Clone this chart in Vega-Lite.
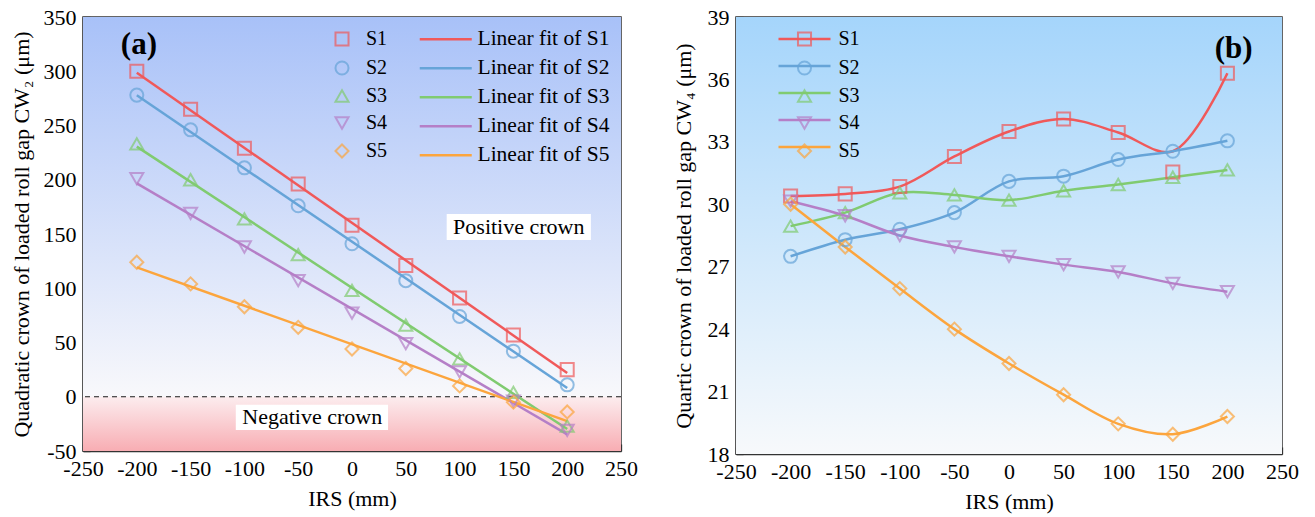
{
  "$schema": "https://vega.github.io/schema/vega-lite/v6.json",
  "background": "white",
  "padding": {"left": 9, "top": 5, "right": 5, "bottom": 5},
  "spacing": 32,
  "datasets": {
    "crownA": [
      {"irs": -200, "series": "S1", "cw2": 300}, {"irs": -150, "series": "S1", "cw2": 265}, {"irs": -100, "series": "S1", "cw2": 229},
      {"irs": -50, "series": "S1", "cw2": 196}, {"irs": 0, "series": "S1", "cw2": 158}, {"irs": 50, "series": "S1", "cw2": 121},
      {"irs": 100, "series": "S1", "cw2": 91}, {"irs": 150, "series": "S1", "cw2": 57}, {"irs": 200, "series": "S1", "cw2": 25},
      {"irs": -200, "series": "S2", "cw2": 278}, {"irs": -150, "series": "S2", "cw2": 246}, {"irs": -100, "series": "S2", "cw2": 211},
      {"irs": -50, "series": "S2", "cw2": 176}, {"irs": 0, "series": "S2", "cw2": 141}, {"irs": 50, "series": "S2", "cw2": 107},
      {"irs": 100, "series": "S2", "cw2": 74}, {"irs": 150, "series": "S2", "cw2": 42}, {"irs": 200, "series": "S2", "cw2": 11},
      {"irs": -200, "series": "S3", "cw2": 233}, {"irs": -150, "series": "S3", "cw2": 200}, {"irs": -100, "series": "S3", "cw2": 164},
      {"irs": -50, "series": "S3", "cw2": 131}, {"irs": 0, "series": "S3", "cw2": 98}, {"irs": 50, "series": "S3", "cw2": 66},
      {"irs": 100, "series": "S3", "cw2": 35}, {"irs": 150, "series": "S3", "cw2": 4}, {"irs": 200, "series": "S3", "cw2": -27},
      {"irs": -200, "series": "S4", "cw2": 201}, {"irs": -150, "series": "S4", "cw2": 169}, {"irs": -100, "series": "S4", "cw2": 138},
      {"irs": -50, "series": "S4", "cw2": 107}, {"irs": 0, "series": "S4", "cw2": 77}, {"irs": 50, "series": "S4", "cw2": 49},
      {"irs": 100, "series": "S4", "cw2": 23}, {"irs": 150, "series": "S4", "cw2": -4}, {"irs": 200, "series": "S4", "cw2": -31},
      {"irs": -200, "series": "S5", "cw2": 124}, {"irs": -150, "series": "S5", "cw2": 104}, {"irs": -100, "series": "S5", "cw2": 83},
      {"irs": -50, "series": "S5", "cw2": 64}, {"irs": 0, "series": "S5", "cw2": 44}, {"irs": 50, "series": "S5", "cw2": 26},
      {"irs": 100, "series": "S5", "cw2": 10}, {"irs": 150, "series": "S5", "cw2": -5}, {"irs": 200, "series": "S5", "cw2": -14}
    ],
    "fitA": [
      {"irs": -200, "fit": "Linear fit of S1", "cw2": 298.6}, {"irs": 200, "fit": "Linear fit of S1", "cw2": 21.9},
      {"irs": -200, "fit": "Linear fit of S2", "cw2": 277.8}, {"irs": 200, "fit": "Linear fit of S2", "cw2": 8.0},
      {"irs": -200, "fit": "Linear fit of S3", "cw2": 230.5}, {"irs": 200, "fit": "Linear fit of S3", "cw2": -29.7},
      {"irs": -200, "fit": "Linear fit of S4", "cw2": 196.7}, {"irs": 200, "fit": "Linear fit of S4", "cw2": -34.7},
      {"irs": -200, "fit": "Linear fit of S5", "cw2": 119.3}, {"irs": 200, "fit": "Linear fit of S5", "cw2": -22.5}
    ],
    "crownB": [
      {"irs": -200, "series": "S1", "cw4": 30.4, "spline": 30.4}, {"irs": -150, "series": "S1", "cw4": 30.5, "spline": 30.5},
      {"irs": -100, "series": "S1", "cw4": 30.85, "spline": 30.85}, {"irs": -50, "series": "S1", "cw4": 32.3, "spline": 32.3},
      {"irs": 0, "series": "S1", "cw4": 33.5, "spline": 33.5}, {"irs": 50, "series": "S1", "cw4": 34.1, "spline": 34.1},
      {"irs": 100, "series": "S1", "cw4": 33.45, "spline": 33.45}, {"irs": 150, "series": "S1", "cw4": 31.55, "spline": 32.55},
      {"irs": 200, "series": "S1", "cw4": 36.3, "spline": 36.3},
      {"irs": -200, "series": "S2", "cw4": 27.5, "spline": 27.5}, {"irs": -150, "series": "S2", "cw4": 28.3, "spline": 28.3},
      {"irs": -100, "series": "S2", "cw4": 28.8, "spline": 28.8}, {"irs": -50, "series": "S2", "cw4": 29.6, "spline": 29.6},
      {"irs": 0, "series": "S2", "cw4": 31.1, "spline": 31.1}, {"irs": 50, "series": "S2", "cw4": 31.35, "spline": 31.35},
      {"irs": 100, "series": "S2", "cw4": 32.15, "spline": 32.15}, {"irs": 150, "series": "S2", "cw4": 32.55, "spline": 32.55},
      {"irs": 200, "series": "S2", "cw4": 33.05, "spline": 33.05},
      {"irs": -200, "series": "S3", "cw4": 28.95, "spline": 28.95}, {"irs": -150, "series": "S3", "cw4": 29.6, "spline": 29.6},
      {"irs": -100, "series": "S3", "cw4": 30.55, "spline": 30.55}, {"irs": -50, "series": "S3", "cw4": 30.45, "spline": 30.45},
      {"irs": 0, "series": "S3", "cw4": 30.2, "spline": 30.2}, {"irs": 50, "series": "S3", "cw4": 30.65, "spline": 30.65},
      {"irs": 100, "series": "S3", "cw4": 30.95, "spline": 30.95}, {"irs": 150, "series": "S3", "cw4": 31.3, "spline": 31.3},
      {"irs": 200, "series": "S3", "cw4": 31.65, "spline": 31.65},
      {"irs": -200, "series": "S4", "cw4": 30.15, "spline": 30.15}, {"irs": -150, "series": "S4", "cw4": 29.45, "spline": 29.45},
      {"irs": -100, "series": "S4", "cw4": 28.5, "spline": 28.5}, {"irs": -50, "series": "S4", "cw4": 27.95, "spline": 27.95},
      {"irs": 0, "series": "S4", "cw4": 27.5, "spline": 27.5}, {"irs": 50, "series": "S4", "cw4": 27.1, "spline": 27.1},
      {"irs": 100, "series": "S4", "cw4": 26.75, "spline": 26.75}, {"irs": 150, "series": "S4", "cw4": 26.2, "spline": 26.2},
      {"irs": 200, "series": "S4", "cw4": 25.8, "spline": 25.8},
      {"irs": -200, "series": "S5", "cw4": 30.0, "spline": 30.0}, {"irs": -150, "series": "S5", "cw4": 27.95, "spline": 27.95},
      {"irs": -100, "series": "S5", "cw4": 25.95, "spline": 25.95}, {"irs": -50, "series": "S5", "cw4": 24.0, "spline": 24.0},
      {"irs": 0, "series": "S5", "cw4": 22.35, "spline": 22.35}, {"irs": 50, "series": "S5", "cw4": 20.85, "spline": 20.85},
      {"irs": 100, "series": "S5", "cw4": 19.45, "spline": 19.45}, {"irs": 150, "series": "S5", "cw4": 18.95, "spline": 18.95},
      {"irs": 200, "series": "S5", "cw4": 19.8, "spline": 19.8}
    ]
  },
  "hconcat": [
    {
      "width": 538,
      "height": 434,
      "layer": [
        {
          "data": {"values": [{}]},
          "mark": {
            "type": "rect",
            "fill": {
              "gradient": "linear", "x1": 0, "y1": 0, "x2": 0, "y2": 1,
              "stops": [
                {"offset": 0, "color": "#a8c1f8"},
                {"offset": 0.874, "color": "#f8f8fb"},
                {"offset": 0.876, "color": "#fcecee"},
                {"offset": 1, "color": "#f8adb3"}
              ]
            }
          },
          "encoding": {
            "x": {"datum": -250, "type": "quantitative", "scale": {"domain": [-250, 250], "nice": false, "zero": false},
                  "axis": {"orient": "bottom", "values": [-225, -175, -125, -75, -25, 25, 75, 125, 175, 225], "labels": false, "domain": false, "tickSize": -4, "title": null}},
            "x2": {"datum": 250},
            "y": {"datum": 350, "type": "quantitative", "scale": {"domain": [-50, 350], "nice": false, "zero": false},
                  "axis": {"orient": "left", "values": [-25, 25, 75, 125, 175, 225, 275, 325], "labels": false, "domain": false, "tickSize": -4, "title": null}},
            "y2": {"datum": -50}
          }
        },
        {
          "data": {"values": [{}]},
          "mark": {"type": "rule", "strokeDash": [5, 4], "color": "#1a1a1a", "strokeWidth": 1.1},
          "encoding": {"y": {"datum": 0, "type": "quantitative", "axis": null}}
        },
        {
          "data": {"values": [{}]},
          "mark": {"type": "rect", "fill": "white"},
          "encoding": {
            "x": {"datum": 88, "type": "quantitative", "axis": null}, "x2": {"datum": 222},
            "y": {"datum": 168.5, "type": "quantitative", "axis": null}, "y2": {"datum": 144.5}
          }
        },
        {
          "data": {"values": [{}]},
          "mark": {"type": "rect", "fill": "white"},
          "encoding": {
            "x": {"datum": -108, "type": "quantitative", "axis": null}, "x2": {"datum": 33.5},
            "y": {"datum": -7.4, "type": "quantitative", "axis": null}, "y2": {"datum": -30.6}
          }
        },
        {
          "data": {"values": [{"label": "Positive crown"}]},
          "mark": {"type": "text", "font": "Liberation Serif", "fontSize": 22, "color": "black", "align": "center", "baseline": "middle"},
          "encoding": {
            "x": {"datum": 155, "type": "quantitative", "axis": null},
            "y": {"datum": 156.5, "type": "quantitative", "axis": null},
            "text": {"field": "label"}
          }
        },
        {
          "data": {"values": [{"label": "Negative crown"}]},
          "mark": {"type": "text", "font": "Liberation Serif", "fontSize": 22, "color": "black", "align": "center", "baseline": "middle"},
          "encoding": {
            "x": {"datum": -37, "type": "quantitative", "axis": null},
            "y": {"datum": -19, "type": "quantitative", "axis": null},
            "text": {"field": "label"}
          }
        },
        {
          "data": {"name": "fitA"},
          "mark": {"type": "line", "strokeWidth": 2.5},
          "encoding": {
            "x": {"field": "irs", "type": "quantitative", "axis": null},
            "y": {"field": "cw2", "type": "quantitative", "axis": null},
            "stroke": {
              "field": "fit", "type": "nominal",
              "scale": {"range": ["#f0595a", "#66a4d8", "#80cb70", "#b57fc7", "#fca53d"]},
              "legend": {"title": null, "orient": "none", "legendX": 352, "legendY": 11.5, "symbolType": "M-4,0H4", "symbolSize": 169, "symbolStrokeWidth": 2.5, "symbolFillColor": "transparent", "labelOffset": 21, "labelFontSize": 21.5, "rowPadding": 6, "padding": 0}
            }
          }
        },
        {
          "data": {"name": "crownA"},
          "mark": {"type": "point", "filled": false, "strokeWidth": 2, "size": 170},
          "encoding": {
            "x": {"field": "irs", "type": "quantitative", "title": "IRS (mm)", "scale": {"domain": [-250, 250], "nice": false, "zero": false},
                  "axis": {"orient": "bottom", "values": [-250, -200, -150, -100, -50, 0, 50, 100, 150, 200, 250], "titlePadding": 9,
                           "labelExpr": "datum.value < 0 ? '-' + abs(datum.value) : '' + datum.value"}},
            "y": {"field": "cw2", "type": "quantitative", "title": "Quadratic crown of loaded roll gap CW₂ (μm)", "scale": {"domain": [-50, 350], "nice": false, "zero": false},
                  "axis": {"orient": "left", "values": [-50, 0, 50, 100, 150, 200, 250, 300, 350], "titlePadding": 10,
                           "labelExpr": "datum.value < 0 ? '-' + abs(datum.value) : '' + datum.value"}},
            "color": {
              "field": "series", "type": "nominal",
              "scale": {"range": ["#f0595a", "#66a4d8", "#80cb70", "#b57fc7", "#fca53d"]},
              "legend": {"title": null, "orient": "none", "legendX": 249, "legendY": 12, "symbolSize": 170, "symbolStrokeWidth": 2, "symbolFillColor": "transparent", "labelOffset": 14, "labelFontSize": 20, "rowPadding": 7, "padding": 0}
            },
            "shape": {
              "field": "series", "type": "nominal",
              "scale": {"range": ["square", "circle", "triangle-up", "triangle-down", "diamond"]}
            }
          }
        },
        {
          "data": {"values": [{"label": "(a)"}]},
          "mark": {"type": "text", "font": "Liberation Serif", "fontSize": 31, "fontWeight": "bold", "color": "black", "align": "center", "baseline": "middle"},
          "encoding": {
            "x": {"datum": -198, "type": "quantitative", "axis": null},
            "y": {"datum": 324.5, "type": "quantitative", "axis": null},
            "text": {"field": "label"}
          }
        }
      ],
      "resolve": {"axis": {"x": "independent", "y": "independent"}}
    },
    {
      "width": 546,
      "height": 437,
      "layer": [
        {
          "data": {"values": [{}]},
          "mark": {
            "type": "rect",
            "fill": {
              "gradient": "linear", "x1": 0, "y1": 0, "x2": 0, "y2": 1,
              "stops": [
                {"offset": 0, "color": "#a5d5fb"},
                {"offset": 1, "color": "#f7f9fb"}
              ]
            }
          },
          "encoding": {
            "x": {"datum": -250, "type": "quantitative", "scale": {"domain": [-250, 250], "nice": false, "zero": false},
                  "axis": {"orient": "bottom", "values": [-225, -175, -125, -75, -25, 25, 75, 125, 175, 225], "labels": false, "domain": false, "tickSize": -4, "title": null}},
            "x2": {"datum": 250},
            "y": {"datum": 39, "type": "quantitative", "scale": {"domain": [18, 39], "nice": false, "zero": false},
                  "axis": {"orient": "left", "values": [19.5, 22.5, 25.5, 28.5, 31.5, 34.5, 37.5], "labels": false, "domain": false, "tickSize": -4, "title": null}},
            "y2": {"datum": 18}
          }
        },
        {
          "data": {"name": "crownB"},
          "mark": {"type": "line", "interpolate": "catmull-rom", "strokeWidth": 2.5},
          "encoding": {
            "x": {"field": "irs", "type": "quantitative", "axis": null},
            "y": {"field": "spline", "type": "quantitative", "axis": null},
            "stroke": {
              "field": "series", "type": "nominal",
              "scale": {"domain": ["S1", "S2", "S3", "S4", "S5"], "range": ["#f0595a", "#66a4d8", "#80cb70", "#b57fc7", "#fca53d"]},
              "legend": {"title": null, "orient": "none", "legendX": 58.5, "legendY": 12, "symbolType": "M-4,0H4", "symbolSize": 169, "symbolStrokeWidth": 2.5, "symbolFillColor": "transparent", "labelExpr": "' '", "labelOffset": 25.5, "labelFontSize": 20, "rowPadding": 7, "padding": 0}
            }
          }
        },
        {
          "data": {"name": "crownB"},
          "mark": {"type": "point", "filled": false, "strokeWidth": 2, "size": 170},
          "encoding": {
            "x": {"field": "irs", "type": "quantitative", "title": "IRS (mm)", "scale": {"domain": [-250, 250], "nice": false, "zero": false},
                  "axis": {"orient": "bottom", "values": [-250, -200, -150, -100, -50, 0, 50, 100, 150, 200, 250], "titlePadding": 9,
                           "labelExpr": "datum.value < 0 ? '-' + abs(datum.value) : '' + datum.value"}},
            "y": {"field": "cw4", "type": "quantitative", "title": "Quartic crown of loaded roll gap CW₄ (μm)", "scale": {"domain": [18, 39], "nice": false, "zero": false},
                  "axis": {"orient": "left", "values": [18, 21, 24, 27, 30, 33, 36, 39], "titlePadding": 12}},
            "color": {
              "field": "series", "type": "nominal",
              "scale": {"range": ["#f0595a", "#66a4d8", "#80cb70", "#b57fc7", "#fca53d"]},
              "legend": {"title": null, "orient": "none", "legendX": 58.5, "legendY": 12, "symbolSize": 170, "symbolStrokeWidth": 2, "symbolFillColor": "#bcdffb", "labelOffset": 24, "labelFontSize": 20, "rowPadding": 7, "padding": 0}
            },
            "shape": {
              "field": "series", "type": "nominal",
              "scale": {"range": ["square", "circle", "triangle-up", "triangle-down", "diamond"]}
            }
          }
        },
        {
          "data": {"values": [{"label": "(b)"}]},
          "mark": {"type": "text", "font": "Liberation Serif", "fontSize": 31, "fontWeight": "bold", "color": "black", "align": "center", "baseline": "middle"},
          "encoding": {
            "x": {"datum": 205.7, "type": "quantitative", "axis": null},
            "y": {"datum": 37.44, "type": "quantitative", "axis": null},
            "text": {"field": "label"}
          }
        }
      ],
      "resolve": {"axis": {"x": "independent", "y": "independent"}}
    }
  ],
  "resolve": {
    "scale": {"color": "independent", "shape": "independent", "stroke": "independent"},
    "legend": {"color": "independent", "shape": "independent", "stroke": "independent"}
  },
  "config": {
    "font": "Liberation Serif",
    "view": {"stroke": "#333333", "strokeWidth": 1.5},
    "axis": {
      "labelFont": "Liberation Serif", "labelFontSize": 22, "labelColor": "#000000",
      "titleFont": "Liberation Serif", "titleFontSize": 22, "titleFontWeight": "normal", "titleColor": "#000000",
      "domainColor": "#333333", "domainWidth": 1.5,
      "tickColor": "#333333", "tickWidth": 1.3, "tickSize": -7, "labelPadding": 14,
      "grid": false, "labelFlush": false, "labelOverlap": false
    },
    "legend": {"labelFont": "Liberation Serif", "labelColor": "#000000"},
    "title": {"font": "Liberation Serif"}
  }
}
